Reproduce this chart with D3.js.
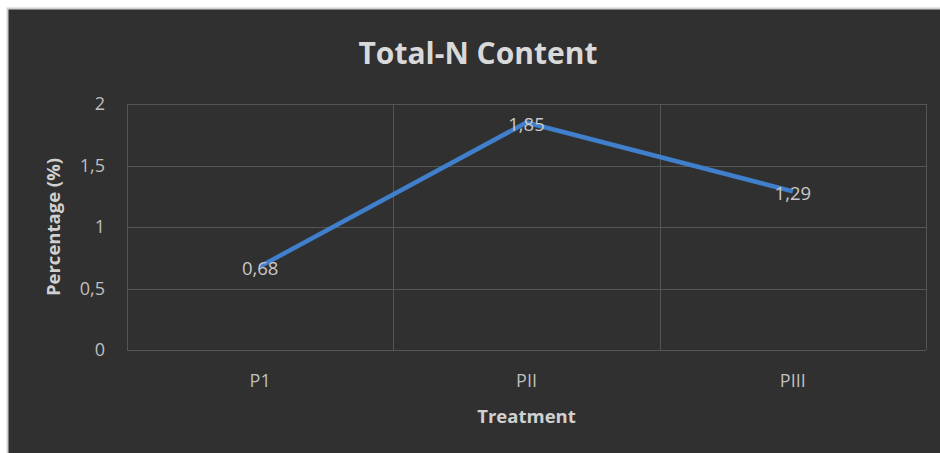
<!doctype html>
<html>
<head>
<meta charset="utf-8">
<title>Total-N Content</title>
<style>
    body { margin: 0; background: #ffffff; }
    svg { display: block; }
    .grid line { stroke: #555555; stroke-width: 1px; }
    .tick-label { fill: #bfbfbf; font-family: "Open Sans", sans-serif; font-size: 18px; }
    .axis-title { fill: #d0d0d0; font-family: "Open Sans", sans-serif; font-size: 18.5px; font-weight: bold; }
    .chart-title { fill: #d9d9d9; font-family: "Open Sans", sans-serif; font-size: 30px; font-weight: bold; }
    .line { fill: none; stroke: #3f7fcb; stroke-width: 4.5px; stroke-linejoin: round; }
    .data-label { fill: #c8c8c8; font-family: "Open Sans", sans-serif; font-size: 18.5px; }
</style>
</head>
<body>
<svg id="plot" width="940" height="453"></svg>

<script src="https://d3js.org/d3.v7.min.js"></script>
<script type="text/javascript">
const categories = ["P1", "PII", "PIII"];
const values = [0.68, 1.85, 1.29];
const yTicks = [0, 0.5, 1, 1.5, 2];
const labelFmt = v => String(v).replace(".", ",");

let svg = d3.select("svg"),
    margin = {top: 104, right: 14, bottom: 103, left: 127},
    width = +svg.attr("width") - margin.left - margin.right,
    height = +svg.attr("height") - margin.top - margin.bottom;

// chart background frame
svg.append("rect")
    .attr("x", 7.5).attr("y", 8.5)
    .attr("width", 940).attr("height", 453)
    .attr("fill", "#303030")
    .attr("stroke", "#d0d0d0")
    .attr("stroke-width", 2);

let g = svg.append("g").attr("transform", "translate(" + margin.left + "," + margin.top + ")");

let x = d3.scaleBand().domain(categories).range([0, width]);
let y = d3.scaleLinear().domain([0, 2]).range([height, 0]);

// horizontal grid
let grid = g.append("g").attr("class", "grid");
grid.selectAll(".hline")
    .data(yTicks)
    .enter().append("line")
    .attr("x1", 0).attr("x2", width)
    .attr("y1", d => Math.round(y(d)) + 0.5)
    .attr("y2", d => Math.round(y(d)) + 0.5);

// vertical grid at category boundaries
let bounds = categories.map(c => x(c)).concat([width]);
grid.selectAll(".vline")
    .data(bounds)
    .enter().append("line")
    .attr("x1", d => Math.round(d) + 0.5).attr("x2", d => Math.round(d) + 0.5)
    .attr("y1", 0).attr("y2", height);

// y tick labels
g.selectAll(".ylab")
    .data(yTicks)
    .enter().append("text")
    .attr("class", "tick-label")
    .attr("x", -22)
    .attr("y", d => y(d))
    .attr("dy", "0.35em")
    .style("text-anchor", "end")
    .text(d => labelFmt(d));

// x tick labels
g.selectAll(".xlab")
    .data(categories)
    .enter().append("text")
    .attr("class", "tick-label")
    .attr("x", d => x(d) + x.bandwidth() / 2)
    .attr("y", height + 31)
    .attr("dy", "0.35em")
    .style("text-anchor", "middle")
    .text(d => d);

let line = d3.line()
    .x((d, i) => x(categories[i]) + x.bandwidth() / 2)
    .y(d => y(d));

g.append("path")
    .datum(values)
    .attr("class", "line")
    .attr("d", line);

// data labels, centered on points
g.selectAll(".dlab")
    .data(values)
    .enter().append("text")
    .attr("class", "data-label")
    .attr("x", (d, i) => x(categories[i]) + x.bandwidth() / 2)
    .attr("y", d => y(d) + 2)
    .attr("dy", "0.35em")
    .style("text-anchor", "middle")
    .text(d => labelFmt(d));

// titles
svg.append("text")
    .attr("class", "chart-title")
    .attr("x", 478).attr("y", 53)
    .attr("dy", "0.35em")
    .style("text-anchor", "middle")
    .text("Total-N Content");

svg.append("text")
    .attr("class", "axis-title")
    .attr("x", margin.left + width / 2).attr("y", 417)
    .attr("dy", "0.35em")
    .style("text-anchor", "middle")
    .text("Treatment");

svg.append("text")
    .attr("class", "axis-title")
    .attr("transform", "translate(54," + (margin.top + y(1)) + ") rotate(-90)")
    .attr("dy", "0.35em")
    .style("text-anchor", "middle")
    .text("Percentage (%)");
</script>
</body>
</html>
